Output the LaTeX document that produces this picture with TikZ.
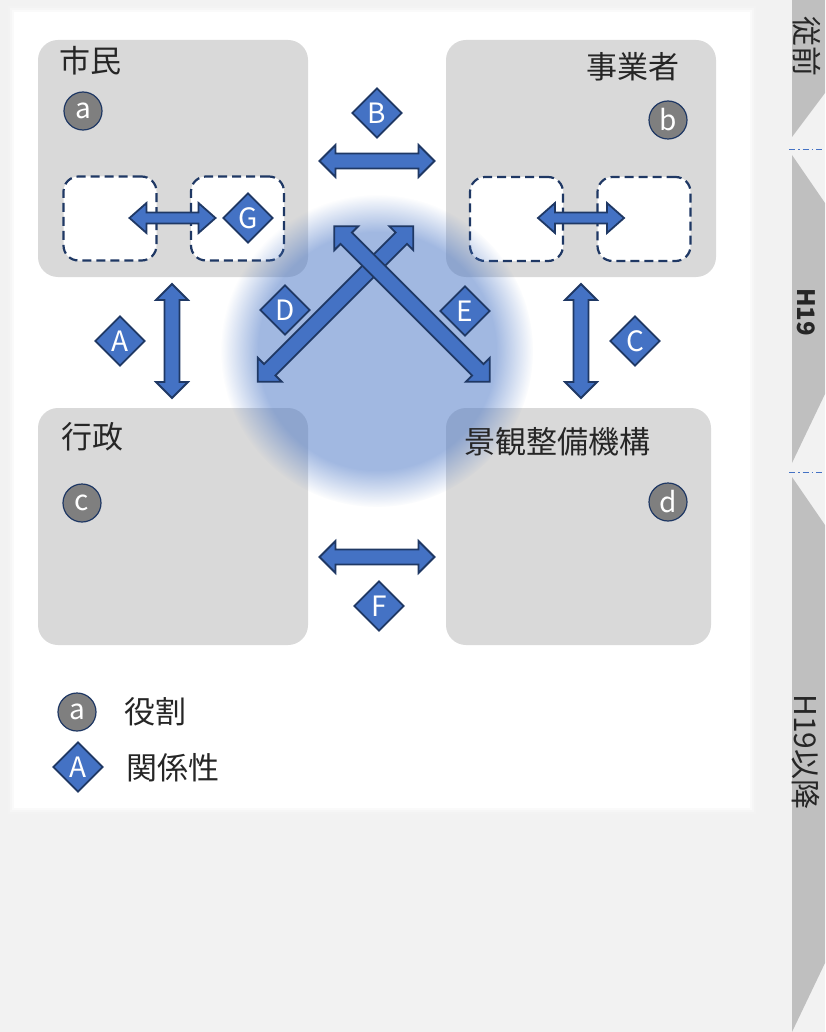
\documentclass[tikz,border=0pt]{standalone}
\usepackage{fontspec}
\setmainfont{Noto Sans CJK JP}
\usetikzlibrary{shapes.geometric,fadings}

\definecolor{bggray}{HTML}{F2F2F2}
\definecolor{boxgray}{HTML}{D9D9D9}
\definecolor{tabgray}{HTML}{BFBFBF}
\definecolor{arrblue}{HTML}{4472C4}
\definecolor{navy}{HTML}{1F3864}
\definecolor{rolegray}{HTML}{7F7F7F}

\newcommand\titlefont{\fontsize{31}{34}\selectfont}
\newcommand\lettfont{\fontsize{28}{30}\selectfont}
\newcommand\tabfont{\fontsize{30}{32}\selectfont}

\pgfdeclareradialshading{glowshade}{\pgfpointorigin}{color(0bp)=(white); color(19bp)=(white); color(25bp)=(black); color(50bp)=(black)}
\pgfdeclarefading{glowfade}{\pgfuseshading{glowshade}}

% block arrow with two heads: length, shaft half width, head half width, head length
\tikzset{
  pics/dblarr/.style n args={4}{code={
    \path[fill=arrblue,draw=navy,line width=1.8pt]
      (-#1/2,0) -- (-#1/2+#4,-#3) -- (-#1/2+#4,-#2) -- (#1/2-#4,-#2)
      -- (#1/2-#4,-#3) -- (#1/2,0) -- (#1/2-#4,#3) -- (#1/2-#4,#2)
      -- (-#1/2+#4,#2) -- (-#1/2+#4,#3) -- cycle;
  }}
}

\begin{document}
\begin{tikzpicture}[x=1pt,y=-1pt]
\tikzstyle{box} = [rectangle,rounded corners=20pt,fill=boxgray,inner sep=0pt,
minimum width=270pt,minimum height=237pt]
\tikzstyle{subbox} = [rectangle,rounded corners=15pt,fill=white,draw=navy,line width=2.2pt,
dash pattern=on 9pt off 5pt,minimum width=93pt,minimum height=84pt]
\tikzstyle{role} = [circle,fill=rolegray,draw=navy,line width=1.2pt,inner sep=0pt,
minimum size=38pt,text=white,font=\lettfont]
\tikzstyle{rel} = [diamond,fill=arrblue,draw=navy,line width=1.8pt,inner sep=0pt,
minimum size=50pt,text=white,font=\lettfont]
\tikzstyle{title} = [inner sep=0pt,text=black!85,font=\titlefont]
\tikzstyle{tab} = [inner sep=0pt,text=black!85,rotate=-90,font=\tabfont]

\useasboundingbox (0,0) rectangle (825,1032);
\fill[bggray] (0,0) rectangle (825,1032);

% white panel with soft edge
\foreach \d/\o in {6/0.15,4/0.3,2/0.55}
  \fill[white,opacity=\o] (14-\d,12-\d) rectangle (750+\d,808+\d);
\fill[white] (14,12) rectangle (750,808);

% the four actors
\node[box] (shimin) at (173,158.5) {};
\node[box] (jigyo) at (581,158.5) {};
\node[box] (gyosei) at (173,526.5) {};
\node[box,minimum width=265pt] (kikou) at (578.5,526.5) {};

\node[subbox] (s1) at (110,218.5) {};
\node[subbox] (s2) at (237.5,218.5) {};
\node[subbox] (j1) at (516.5,219) {};
\node[subbox] (j2) at (644,219) {};

% glow in the middle
\fill[arrblue,opacity=0.5,path fading=glowfade] (377,351) circle [radius=156pt];

% relations
\pic (arrB) at (377,161) {dblarr={115}{7.5}{16}{16}};
\pic (arrF) at (377,557) {dblarr={115}{7.5}{16}{16}};
\pic[rotate=90] (arrA) at (172,341) {dblarr={114}{7.5}{16}{16}};
\pic[rotate=90] (arrC) at (581,341) {dblarr={114}{7.5}{16}{16}};
\pic[rotate=45] (arrD) at (335.5,304) {dblarr={220}{8}{17}{17}};
\pic[rotate=-45] (arrE) at (412,304) {dblarr={220}{8}{17}{17}};
\pic (arrG) at (172.5,218) {dblarr={86}{5.5}{15}{17}};
\pic (arrH) at (581,218) {dblarr={86}{5.5}{15}{17}};

\node[rel] (A) at (120,341) {A};
\node[rel] (B) at (377,113) {B};
\node[rel] (C) at (635,341) {C};
\node[rel] (D) at (285,310) {D};
\node[rel] (E) at (465,311) {E};
\node[rel] (F) at (379,606) {F};
\node[rel] (G) at (248,218) {G};

\node[role] (a) at (83,111) {a};
\node[role] (b) at (668,120) {b};
\node[role] (c) at (82,503) {c};
\node[role] (d) at (668,502) {d};

\node[title,anchor=west] (tshimin) at (59,61) {市民};
\node[title,anchor=east] (tjigyo) at (680,67) {事業者};
\node[title,anchor=west] (tgyosei) at (61,437) {行政};
\node[title,anchor=west] (tkikou) at (464,442) {景観整備機構};

% legend
\node[role] (la) at (77,712) {a};
\node[rel] (lA) at (78,767) {A};
\node[title,anchor=west] (tla) at (124,712) {役割};
\node[title,anchor=west] (tlA) at (126,768) {関係性};

% period tabs
\fill[tabgray] (792,0) -- (825,0) -- (825,93) -- (792,137) -- cycle;
\fill[tabgray] (792,155) -- (825,203) -- (825,394) -- (792,463) -- cycle;
\fill[tabgray] (792,477) -- (825,525) -- (825,963) -- (792,1032) -- cycle;
\draw[arrblue,line width=1pt,dash pattern=on 6pt off 3pt on 1.5pt off 3pt] (789,150) -- (825,150);
\draw[arrblue,line width=1pt,dash pattern=on 6pt off 3pt on 1.5pt off 3pt] (789,472) -- (825,472);
\node[tab] (t1) at (807,47) {従前};
\node[tab,font=\fontsize{24}{26}\selectfont\bfseries] (t2) at (806,312) {H19};
\node[tab] (t3) at (806,752) {H19以降};
\end{tikzpicture}
\end{document}
